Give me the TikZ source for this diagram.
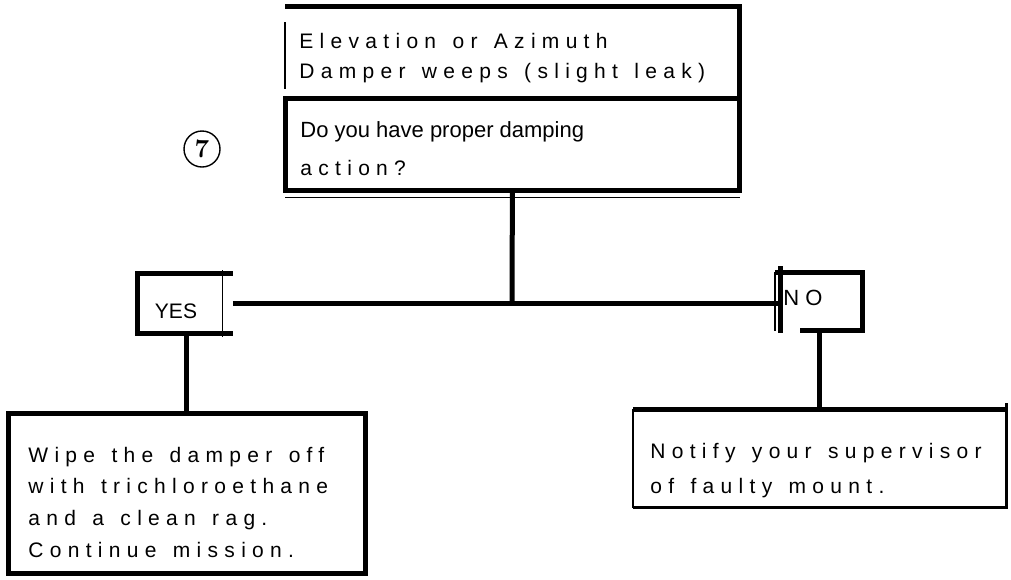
\documentclass[tikz,border=0pt]{standalone}
\usepackage{fontspec}
\setsansfont{Liberation Sans}
\newfontfamily\spacedfont[LetterSpace=30,WordSpace=1.35]{Liberation Sans}
\usepackage{tikz}

\tikzset{
  heavy/.style={line width=2.5pt},
  medium/.style={line width=1.5pt},
  hairline/.style={line width=0.6pt},
  frame/.style={inner sep=0pt, anchor=north west},
  spaced/.style={inner sep=0pt, anchor=base west, align=left,
    font=\spacedfont\fontsize{10.5}{#1}\selectfont},
  spaced/.default=15.8,
  plain/.style={inner sep=0pt, font=\sffamily\fontsize{11}{13}\selectfont},
}

\begin{document}
\begin{tikzpicture}[x=0.5pt,y=-0.5pt]
\useasboundingbox (0,0) rectangle (1011,579);
% box frames
\node [frame, minimum width=227pt, minimum height=46pt] (head) at (285,6) {};
\node [frame, minimum width=227pt, minimum height=46pt] (ask) at (285,98) {};
\node [frame, minimum width=47.5pt, minimum height=30pt] (yes) at (137,273) {};
\node [frame, minimum width=41pt, minimum height=29pt] (no) at (780,272) {};
\node [frame, minimum width=178.5pt, minimum height=80pt] (wipe) at (8,413) {};
\node [frame, minimum width=186.5pt, minimum height=49pt] (notify) at (633,409) {};
\draw [heavy] (head.north west) -- (head.north east) -- (ask.south east) -- (ask.south west) -- (head.south west) -- (head.south east);
\draw [hairline] ([yshift=-8pt]head.north west) -- ([yshift=5pt]head.south west);
\draw [hairline] ([yshift=-3.5pt]ask.south west) -- ([yshift=-3.5pt]ask.south east);
\draw [heavy] (yes.north east) -- (yes.north west) -- (yes.south west) -- (yes.south east);
\draw [hairline] ([xshift=-5pt,yshift=1.5pt]yes.north east) -- ([xshift=-5pt,yshift=-1.5pt]yes.south east);
\draw [heavy] ([yshift=3pt]no.north west) -- ([yshift=-1pt]no.south west);
\draw [heavy] ([xshift=-2.5pt]no.north west) -- (no.north east) -- (no.south east) -- ([xshift=10pt]no.south west);
\draw [hairline] ([xshift=-2.5pt]no.north west) -- ([xshift=-2.5pt]no.south west);
\draw [heavy] (wipe.north west) rectangle (wipe.south east);
\draw [heavy] (notify.north west) -- (notify.north east);
\draw [medium] ([yshift=3pt]notify.north east) -- (notify.south east) -- (notify.south west);
\draw [hairline] (notify.north west) -- (notify.south west);
% texts
\node [spaced=15] (title) at (299,78) {Elevation or Azimuth\\Damper weeps (slight leak)};
\node [plain, anchor=base west] (question) at (300,137) {Do you have proper damping};
\node [spaced] (action) at (300,175) {action?};
\node [circle, draw, line width=0.7pt, inner sep=0pt, minimum size=18pt,
  font=\rmfamily\bfseries\fontsize{13}{13}\selectfont] (seven) at (202,149) {7};
\node [plain, font=\sffamily\fontsize{10.5}{12}\selectfont] (yeslabel) at (176,311) {YES};
\node [plain] (nolabel) at (803,298) {N O};
\node [spaced] (wipetext) at (28,557) {Wipe the damper off\\with trichloroethane\\and a clean rag.\\Continue mission.};
\node [spaced=17.5] (notifytext) at (650,493) {Notify your supervisor\\of faulty mount.};
% connectors
\coordinate (junction) at (512,303);
\draw [heavy] (ask.south) -- (junction);
\draw [heavy] (yes.east |- junction) -- (no.west |- junction);
\draw [heavy] (yes.south -| wipe.north) -- (wipe.north);
\draw [heavy] (no.south -| notify.north) -- (notify.north);
\end{tikzpicture}
\end{document}
